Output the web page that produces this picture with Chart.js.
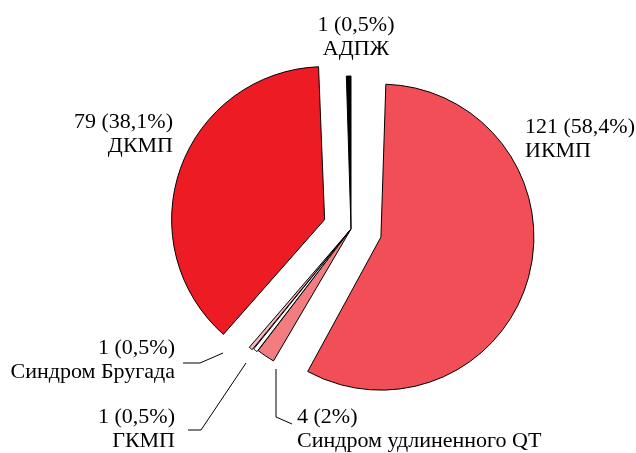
<!DOCTYPE html>
<html>
<head>
<meta charset="utf-8">
<script src="https://cdn.jsdelivr.net/npm/chart.js@4.4.1/dist/chart.umd.min.js"></script>
<style>
  body { margin: 0; background: #fff; }
  #wrap { width: 636px; height: 453px; position: relative; }
</style>
</head>
<body>
<div id="wrap"><canvas id="pieChart"></canvas></div>
<script>
// Diagnoses, counts and shares (clockwise from 12 o'clock)
const labels = ["ИКМП", "Синдром удлиненного QT", "ГКМП", "Синдром Бругада", "ДКМП", "АДПЖ"];
const counts = [121, 4, 1, 1, 79, 1];
const shares = ["58,4%", "2%", "0,5%", "0,5%", "38,1%", "0,5%"];

const colors = ['#f24e58', '#f37c80', '#ffffff', '#f7b7b9', '#ed1c24', '#000000'];
const explode = [124, 0, 6, 12, 112, 0];

// where each label sits and how its leader line runs
const labelSpots = [
    { x: 525, y: 127, align: 'left', lead: null },
    { x: 297, y: 417, align: 'left', lead: [[276, 369], [276, 417], [292, 424]] },
    { x: 175, y: 417, align: 'right', lead: [[246, 363], [201, 430], [188, 430]] },
    { x: 175, y: 348, align: 'right', lead: [[223, 353], [200, 363], [183, 363]] },
    { x: 173, y: 122, align: 'right', lead: null },
    { x: 356, y: 25, align: 'center', lead: null }
];

// chart.js grows an offset slice's radius; keep all slices the same size
const sameRadius = {
    id: 'sameRadius',
    beforeDatasetDraw(chart, args) {
        const base = args.meta.controller.outerRadius;
        args.meta.data.forEach(arc => {
            const o = (arc.options.offset || 0) / 4;
            const fix = 1 - Math.sin(Math.min(Math.PI, arc.circumference));
            arc.outerRadius = base - o * fix;
        });
    }
};

const pieLabels = {
    id: 'pieLabels',
    afterDraw(chart) {
        const ctx = chart.ctx;
        ctx.save();
        ctx.fillStyle = '#000';
        ctx.strokeStyle = '#000';
        ctx.lineWidth = 1;
        ctx.font = '22px "Liberation Serif", "Times New Roman", serif';
        ctx.textBaseline = 'middle';
        labelSpots.forEach((s, i) => {
            ctx.textAlign = s.align;
            ctx.fillText(counts[i] + ' (' + shares[i] + ')', s.x, s.y);
            ctx.fillText(labels[i], s.x, s.y + 24);
            if (s.lead) {
                ctx.beginPath();
                ctx.moveTo(s.lead[0][0], s.lead[0][1]);
                for (let k = 1; k < s.lead.length; k++) ctx.lineTo(s.lead[k][0], s.lead[k][1]);
                ctx.stroke();
            }
        });
        ctx.restore();
    }
};

new Chart(document.getElementById('pieChart'), {
    type: 'pie',
    data: {
        labels: labels,
        datasets: [{
            data: counts,
            backgroundColor: colors,
            borderColor: '#000',
            borderWidth: 1,
            offset: explode
        }]
    },
    options: {
        responsive: true,
        maintainAspectRatio: false,
        animation: false,
        radius: 153,
        layout: { padding: { left: 66, right: 0, top: 5, bottom: 0 } },
        plugins: {
            legend: { display: false },
            tooltip: { enabled: false }
        }
    },
    plugins: [sameRadius, pieLabels]
});
</script>
</body>
</html>
